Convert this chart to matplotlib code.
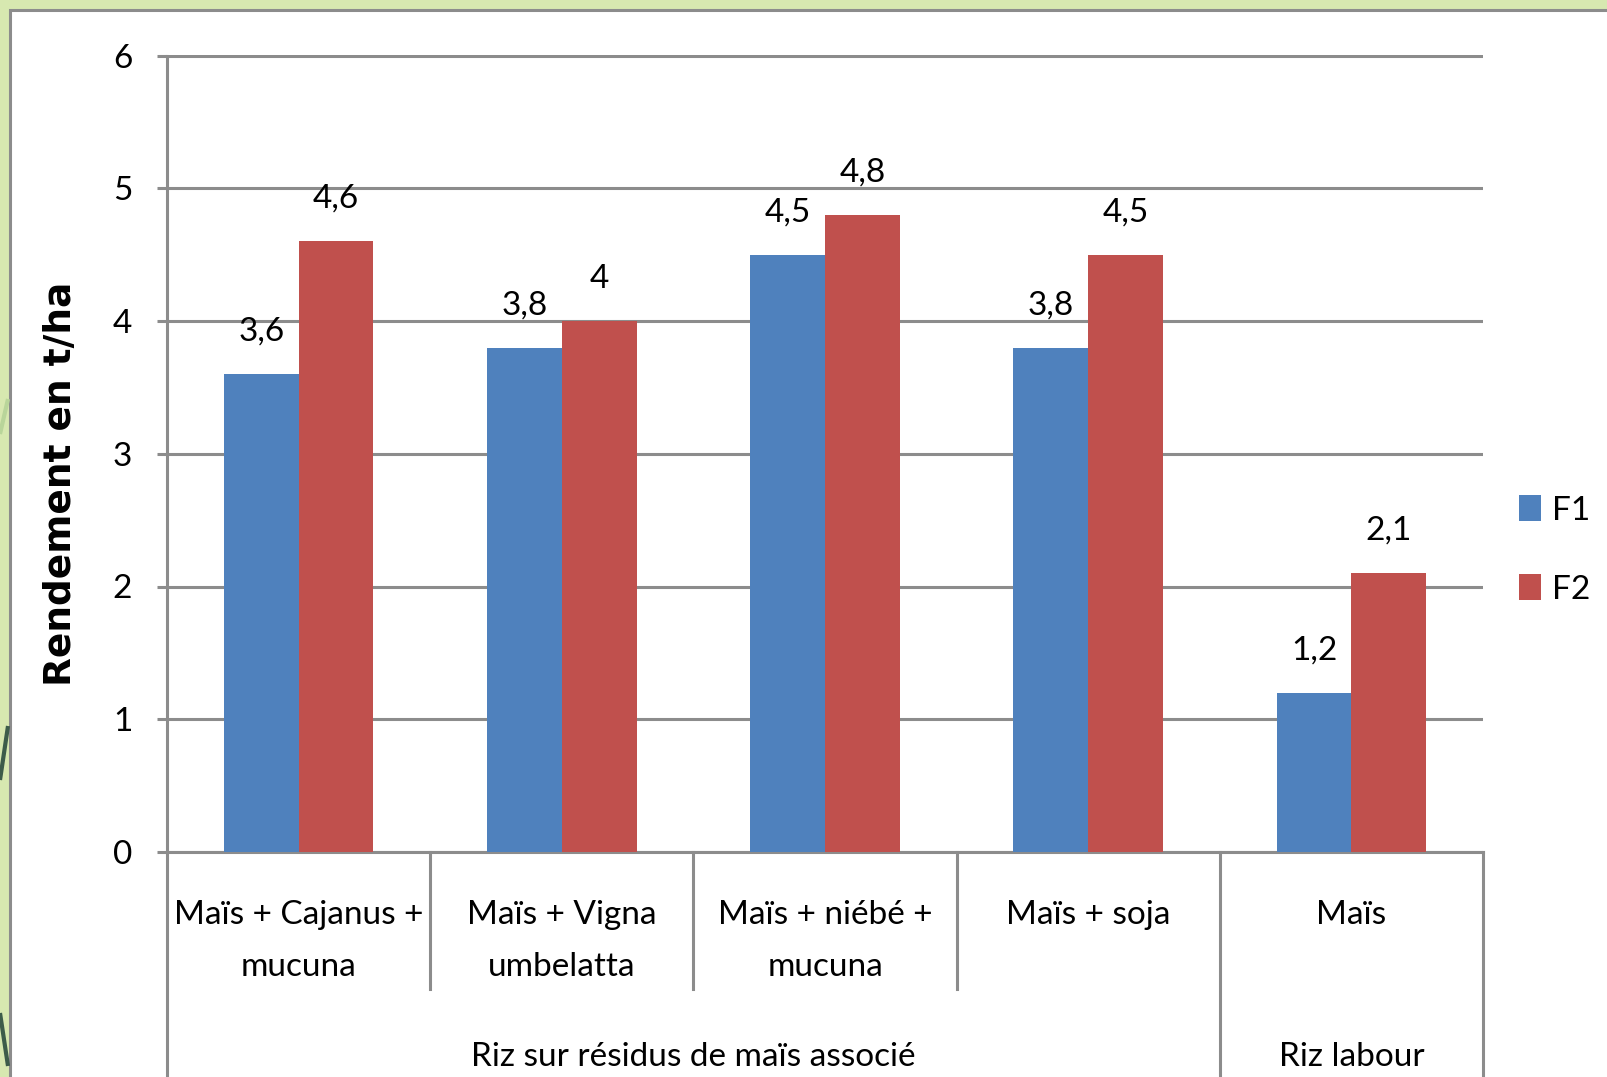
import numpy as np
import matplotlib
matplotlib.use("Agg")
import matplotlib.pyplot as plt
from matplotlib.patches import Rectangle, Patch
from matplotlib.lines import Line2D
import matplotlib.transforms as mtransforms

# data
sub_labels = [["Maïs + Cajanus +", "mucuna"],
              ["Maïs + Vigna", "umbelatta"],
              ["Maïs + niébé +", "mucuna"],
              ["Maïs + soja"],
              ["Maïs"]]
group_labels = ["Riz sur résidus de maïs associé", "Riz labour"]
group_spans = [(0, 3), (4, 4)]
series = ["F1", "F2"]
f1 = [3.6, 3.8, 4.5, 3.8, 1.2]
f2 = [4.6, 4.0, 4.8, 4.5, 2.1]
yticks = [0, 1, 2, 3, 4, 5, 6]

W, H = 1607, 1077
BLUE = "#4f81bd"
RED = "#c0504d"
GREY = "#8c8c8c"
FONT = ["Lato", "DejaVu Sans"]
plt.rcParams["font.family"] = FONT
FS = 24

fig = plt.figure(figsize=(W / 100, H / 100), dpi=100)
fig.patch.set_facecolor("#d7e8b0")

# slide frame
fig.patches.append(Rectangle((9.5 / W, -0.01), 1.0, (H - 9.5) / H + 0.01,
                             transform=fig.transFigure, facecolor="white",
                             edgecolor=GREY, lw=2.2, zorder=-5))

# bits of the slide decoration on the left strip
def px_line(x0, y0, x1, y1, color, lw=3):
    fig.lines.append(Line2D([x0 / W, x1 / W], [1 - y0 / H, 1 - y1 / H],
                            transform=fig.transFigure, color=color, lw=lw,
                            solid_capstyle="butt", zorder=-4))

px_line(0, 434, 8, 399, "#b9d59a")
px_line(0, 780, 8, 726, "#3d5c4a")
px_line(0, 1013, 8, 1066, "#3d5c4a")

ax = fig.add_axes([167 / W, (H - 852) / H, (1483 - 167) / W, (852 - 55.5) / H])
ax.set_facecolor("none")

x = np.arange(len(f1))
w = 0.284
b1 = ax.bar(x - w / 2, f1, w, color=BLUE, label=series[0], zorder=3)
b2 = ax.bar(x + w / 2, f2, w, color=RED, label=series[1], zorder=3)

for xs, vals in [(x - w / 2, f1), (x + w / 2, f2)]:
    for xi, v in zip(xs, vals):
        ax.annotate(f"{v:g}".replace(".", ","), (xi, v), xytext=(0, 24),
                    textcoords="offset points", ha="center", va="baseline",
                    fontsize=FS)

ax.set_xlim(-0.5, 4.5)
ax.set_ylim(0, 6)
ax.set_yticks(yticks)
ax.set_xticks([])
ax.yaxis.grid(True, color=GREY, lw=2.2)
ax.set_axisbelow(True)
for s in ["top", "right"]:
    ax.spines[s].set_visible(False)
for s in ["left", "bottom"]:
    ax.spines[s].set_color(GREY)
    ax.spines[s].set_linewidth(2.2)
ax.tick_params(axis="y", direction="out", length=7, width=2.2, color=GREY,
               pad=18, labelsize=FS)

ax.set_ylabel("Rendement en t/ha", fontsize=27, fontweight="bold",
              family="DejaVu Sans")
ax.yaxis.set_label_coords(-0.0665, 0.462)

# category axis: dividers and labels
trans = mtransforms.blended_transform_factory(ax.transData, ax.transAxes)
for xb in [0.5, 1.5, 2.5]:
    ax.plot([xb, xb], [0, -0.172], transform=trans, color=GREY, lw=2.2,
            clip_on=False)
for xb in [-0.5, 3.5, 4.5]:
    ax.plot([xb, xb], [0, -0.32], transform=trans, color=GREY, lw=2.2,
            clip_on=False)

line_y = [-0.0790, -0.1450]
for xi, lines in zip(x, sub_labels):
    for ly, txt in zip(line_y, lines):
        ax.text(xi, ly, txt, transform=trans, ha="center", va="center",
                fontsize=FS)
for (a, b), txt in zip(group_spans, group_labels):
    ax.text((a + b) / 2, -0.2570, txt, transform=trans, ha="center",
            va="center", fontsize=FS)

handles = [Patch(facecolor=BLUE), Patch(facecolor=RED)]
fig.legend(handles, series, loc="center left",
           bbox_to_anchor=(1519 / W, 1 - 550 / H), frameon=False,
           fontsize=FS, handlelength=0.67, handleheight=0.82,
           handletextpad=0.33, labelspacing=1.45, borderpad=0,
           borderaxespad=0)

fig.savefig("out.png", dpi=100, facecolor=fig.get_facecolor())
